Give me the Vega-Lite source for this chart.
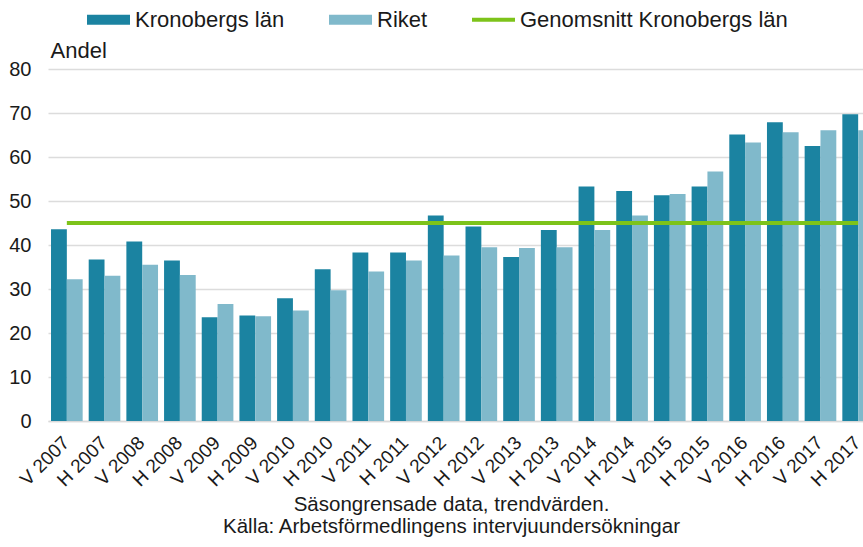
{
  "$schema": "https://vega.github.io/schema/vega-lite/v6.json",
  "autosize": {"type": "none"},
  "padding": {"left": 48, "top": 69, "right": 0, "bottom": 126},
  "width": 815,
  "height": 352,
  "background": "white",
  "config": {
    "font": "Liberation Sans",
    "view": {"stroke": null},
    "axis": {"labelColor": "#1a1a1a", "titleColor": "#1a1a1a", "labelFont": "Liberation Sans", "titleFont": "Liberation Sans"}
  },
  "datasets": {
    "bars": [
      {"period": "V 2007", "serie": "Kronobergs län", "andel": 43.6},
      {"period": "V 2007", "serie": "Riket", "andel": 32.2},
      {"period": "H 2007", "serie": "Kronobergs län", "andel": 36.7},
      {"period": "H 2007", "serie": "Riket", "andel": 33.0},
      {"period": "V 2008", "serie": "Kronobergs län", "andel": 40.8},
      {"period": "V 2008", "serie": "Riket", "andel": 35.5},
      {"period": "H 2008", "serie": "Kronobergs län", "andel": 36.5},
      {"period": "H 2008", "serie": "Riket", "andel": 33.2},
      {"period": "V 2009", "serie": "Kronobergs län", "andel": 23.6},
      {"period": "V 2009", "serie": "Riket", "andel": 26.6},
      {"period": "H 2009", "serie": "Kronobergs län", "andel": 24.0},
      {"period": "H 2009", "serie": "Riket", "andel": 23.8},
      {"period": "V 2010", "serie": "Kronobergs län", "andel": 27.9},
      {"period": "V 2010", "serie": "Riket", "andel": 25.1},
      {"period": "H 2010", "serie": "Kronobergs län", "andel": 34.5},
      {"period": "H 2010", "serie": "Riket", "andel": 29.7},
      {"period": "V 2011", "serie": "Kronobergs län", "andel": 38.3},
      {"period": "V 2011", "serie": "Riket", "andel": 34.0},
      {"period": "H 2011", "serie": "Kronobergs län", "andel": 38.3},
      {"period": "H 2011", "serie": "Riket", "andel": 36.5},
      {"period": "V 2012", "serie": "Kronobergs län", "andel": 46.7},
      {"period": "V 2012", "serie": "Riket", "andel": 37.6},
      {"period": "H 2012", "serie": "Kronobergs län", "andel": 44.2},
      {"period": "H 2012", "serie": "Riket", "andel": 39.5},
      {"period": "V 2013", "serie": "Kronobergs län", "andel": 37.3},
      {"period": "V 2013", "serie": "Riket", "andel": 39.3},
      {"period": "H 2013", "serie": "Kronobergs län", "andel": 43.4},
      {"period": "H 2013", "serie": "Riket", "andel": 39.5},
      {"period": "V 2014", "serie": "Kronobergs län", "andel": 53.3},
      {"period": "V 2014", "serie": "Riket", "andel": 43.4},
      {"period": "H 2014", "serie": "Kronobergs län", "andel": 52.3},
      {"period": "H 2014", "serie": "Riket", "andel": 46.7},
      {"period": "V 2015", "serie": "Kronobergs län", "andel": 51.3},
      {"period": "V 2015", "serie": "Riket", "andel": 51.6},
      {"period": "H 2015", "serie": "Kronobergs län", "andel": 53.3},
      {"period": "H 2015", "serie": "Riket", "andel": 56.7},
      {"period": "V 2016", "serie": "Kronobergs län", "andel": 65.1},
      {"period": "V 2016", "serie": "Riket", "andel": 63.3},
      {"period": "H 2016", "serie": "Kronobergs län", "andel": 67.9},
      {"period": "H 2016", "serie": "Riket", "andel": 65.6},
      {"period": "V 2017", "serie": "Kronobergs län", "andel": 62.5},
      {"period": "V 2017", "serie": "Riket", "andel": 66.1},
      {"period": "H 2017", "serie": "Kronobergs län", "andel": 69.7},
      {"period": "H 2017", "serie": "Riket", "andel": 66.1}
    ],
    "snitt": [
      {"period": "V 2007", "serie": "Genomsnitt Kronobergs län", "andel": 45},
      {"period": "H 2007", "serie": "Genomsnitt Kronobergs län", "andel": 45},
      {"period": "V 2008", "serie": "Genomsnitt Kronobergs län", "andel": 45},
      {"period": "H 2008", "serie": "Genomsnitt Kronobergs län", "andel": 45},
      {"period": "V 2009", "serie": "Genomsnitt Kronobergs län", "andel": 45},
      {"period": "H 2009", "serie": "Genomsnitt Kronobergs län", "andel": 45},
      {"period": "V 2010", "serie": "Genomsnitt Kronobergs län", "andel": 45},
      {"period": "H 2010", "serie": "Genomsnitt Kronobergs län", "andel": 45},
      {"period": "V 2011", "serie": "Genomsnitt Kronobergs län", "andel": 45},
      {"period": "H 2011", "serie": "Genomsnitt Kronobergs län", "andel": 45},
      {"period": "V 2012", "serie": "Genomsnitt Kronobergs län", "andel": 45},
      {"period": "H 2012", "serie": "Genomsnitt Kronobergs län", "andel": 45},
      {"period": "V 2013", "serie": "Genomsnitt Kronobergs län", "andel": 45},
      {"period": "H 2013", "serie": "Genomsnitt Kronobergs län", "andel": 45},
      {"period": "V 2014", "serie": "Genomsnitt Kronobergs län", "andel": 45},
      {"period": "H 2014", "serie": "Genomsnitt Kronobergs län", "andel": 45},
      {"period": "V 2015", "serie": "Genomsnitt Kronobergs län", "andel": 45},
      {"period": "H 2015", "serie": "Genomsnitt Kronobergs län", "andel": 45},
      {"period": "V 2016", "serie": "Genomsnitt Kronobergs län", "andel": 45},
      {"period": "H 2016", "serie": "Genomsnitt Kronobergs län", "andel": 45},
      {"period": "V 2017", "serie": "Genomsnitt Kronobergs län", "andel": 45},
      {"period": "H 2017", "serie": "Genomsnitt Kronobergs län", "andel": 45}
    ]
  },
  "encoding": {
    "x": {
      "field": "period",
      "type": "nominal",
      "sort": null,
      "scale": {"range": [0, 829], "paddingInner": 0.16, "paddingOuter": 0.08},
      "axis": {
        "labelAngle": -45,
        "labelFontSize": 19,
        "labelPadding": 12,
        "labelOffset": -7,
        "ticks": false,
        "domainColor": "#d9d9d9",
        "domainWidth": 1.5,
        "title": ["Säsongrensade data, trendvärden.", "Källa: Arbetsförmedlingens intervjuundersökningar"],
        "titleFontSize": 20.5,
        "titleFontWeight": "normal",
        "titleLineHeight": 22,
        "titleX": 403,
        "titleY": 89,
        "titleBaseline": "alphabetic",
        "titleAnchor": null,
        "titleAlign": "center"
      }
    },
    "y": {
      "field": "andel",
      "type": "quantitative",
      "scale": {"domain": [0, 80], "nice": false},
      "axis": {
        "values": [0, 10, 20, 30, 40, 50, 60, 70, 80],
        "domain": false,
        "ticks": false,
        "labelFontSize": 20,
        "labelPadding": 17,
        "gridColor": "#dcdcdc",
        "gridWidth": 1.5,
        "title": "Andel",
        "titleAngle": 0,
        "titleFontSize": 22,
        "titleFontWeight": "normal",
        "titleAlign": "left",
        "titleBaseline": "alphabetic",
        "titleAnchor": null,
        "titleX": 2,
        "titleY": -12
      }
    },
    "color": {
      "field": "serie",
      "type": "nominal",
      "scale": {
        "domain": ["Kronobergs län", "Riket", "Genomsnitt Kronobergs län"],
        "range": ["#1b83a1", "#80b9cb", "#7dc31a"]
      },
      "legend": {
        "orient": "none",
        "legendX": 39,
        "legendY": -71,
        "direction": "horizontal",
        "title": null,
        "symbolSize": 1849,
        "symbolType": "M-1,-0.233H1V0.233H-1Z",
        "symbolStrokeWidth": 0,
        "symbolOpacity": 1,
        "labelFontSize": 22,
        "labelColor": "#1a1a1a",
        "labelOffset": 5,
        "labelLimit": 400,
        "columnPadding": 44,
        "encode": {
          "symbols": {
            "update": {
              "shape": {"signal": "datum.value === 'Genomsnitt Kronobergs län' ? 'M-1,-0.09H1V0.09H-1Z' : 'M-1,-0.233H1V0.233H-1Z'"},
              "fill": {"scale": "color", "field": "value"},
              "strokeWidth": {"value": 0}
            }
          }
        }
      }
    }
  },
  "layer": [
    {
      "data": {"name": "bars"},
      "mark": {"type": "bar"},
      "encoding": {
        "xOffset": {"field": "serie", "type": "nominal", "sort": ["Kronobergs län", "Riket"], "scale": {"paddingInner": 0, "paddingOuter": 0}}
      }
    },
    {
      "data": {"name": "snitt"},
      "mark": {"type": "line", "strokeWidth": 4},
      "encoding": {}
    }
  ]
}
